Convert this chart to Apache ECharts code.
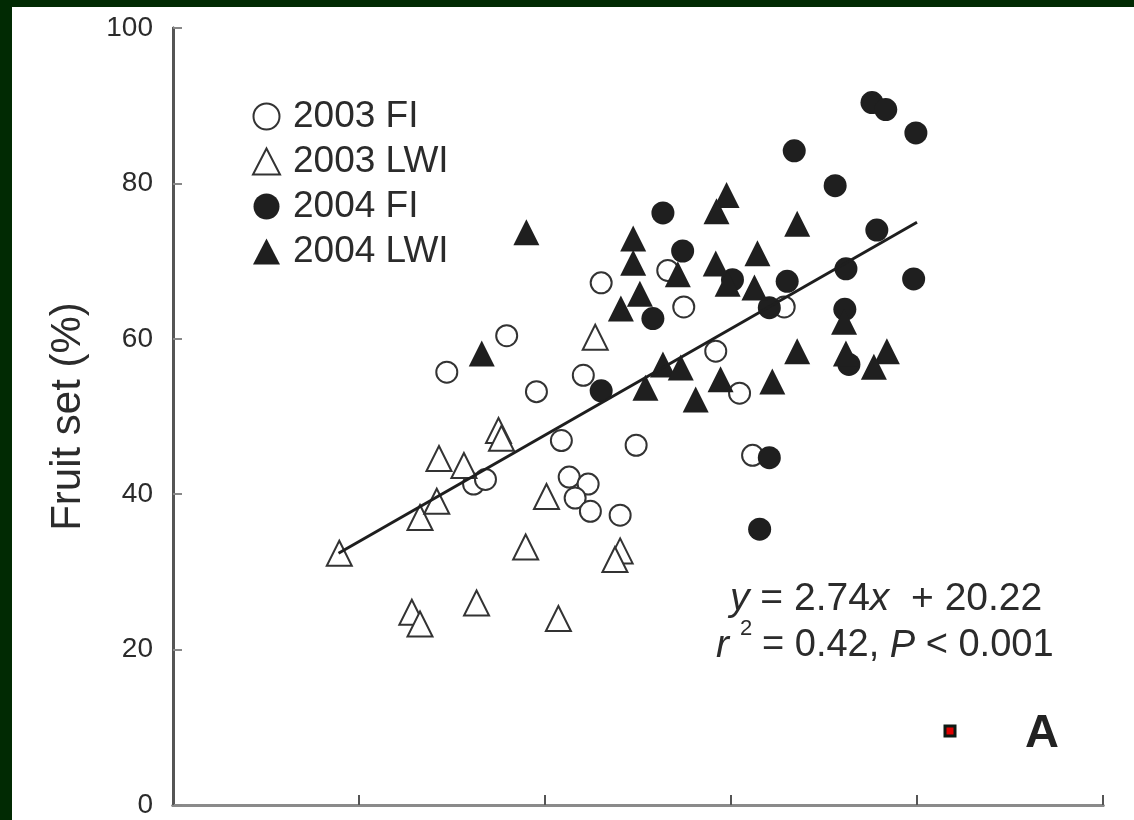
<!DOCTYPE html>
<html>
<head>
<meta charset="utf-8">
<script src="https://cdn.jsdelivr.net/npm/echarts@6/dist/echarts.min.js"></script>
<style>
  html, body { margin: 0; padding: 0; background: #012a03; width: 1134px; height: 820px; overflow: hidden; }
  #chart { position: absolute; left: 12px; top: 7px; width: 1122px; height: 813px; background: #fff; }
</style>
</head>
<body>
<div id="chart"></div>
<script>
// values: [x, fruit set %]
const fi2003 = [
  [7.36, 55.7], [8.97, 60.4], [9.77, 53.2], [10.44, 46.9], [10.65, 42.2],
  [11.16, 41.3], [10.81, 39.5], [11.22, 37.8], [12.02, 37.3], [11.03, 55.3],
  [11.51, 67.2], [12.45, 46.3], [13.30, 68.8], [13.73, 64.1], [14.59, 58.4],
  [15.23, 53.0], [15.58, 45.0], [16.43, 64.1], [8.08, 41.3], [8.40, 41.9]
];
const lwi2003 = [
  [4.47, 32.4], [6.42, 24.8], [6.64, 23.3], [6.64, 37.0], [7.09, 39.1],
  [7.15, 44.6], [7.82, 43.7], [8.16, 26.0], [8.75, 48.2], [8.83, 47.2],
  [9.48, 33.2], [10.04, 39.7], [10.36, 24.0], [11.35, 60.2], [12.02, 32.7],
  [11.88, 31.6]
];
const fi2004 = [
  [13.17, 76.2], [13.70, 71.3], [12.90, 62.6], [11.51, 53.3], [16.03, 64.0],
  [16.51, 67.4], [16.70, 84.2], [17.80, 79.7], [18.79, 90.4], [19.16, 89.5],
  [19.97, 86.5], [18.92, 74.0], [18.09, 69.0], [19.91, 67.7], [18.06, 63.8],
  [18.17, 56.7], [16.03, 44.7], [15.77, 35.5], [15.04, 67.6]
];
const lwi2004 = [
  [8.30, 58.1], [9.50, 73.7], [14.88, 78.5], [14.61, 76.4], [16.78, 74.8],
  [12.37, 72.9], [12.37, 69.8], [15.71, 71.0], [14.59, 69.7], [13.57, 68.3],
  [14.91, 67.1], [15.63, 66.6], [12.55, 65.8], [12.04, 63.9], [18.04, 62.2],
  [16.78, 58.4], [18.09, 58.1], [19.19, 58.4], [18.84, 56.4], [13.17, 56.7],
  [13.65, 56.3], [12.70, 53.7], [14.72, 54.8], [16.11, 54.5], [14.05, 52.2]
];
// fitted line end points as drawn
const fitLine = [[4.45, 32.4], [20.0, 75.0]];
const yTicks = [0, 20, 40, 60, 80, 100];

const ink = '#2b2b2b';
const font = 'Liberation Sans, Arial, sans-serif';

let chart = echarts.init(document.getElementById('chart'));

const openStyle = { color: '#fff', borderColor: '#333', borderWidth: 2, opacity: 1 };
const solidStyle = { color: '#1f1f1f', borderColor: '#1f1f1f', borderWidth: 0, opacity: 1 };
const italic = { fontStyle: 'italic', fontSize: 39, fontFamily: font };

chart.setOption({
  animation: false,
  textStyle: { fontFamily: font },
  grid: { left: 161, top: 21, right: 31, bottom: 15 },
  legend: {
    orient: 'vertical',
    left: 235,
    top: 86,
    itemWidth: 27,
    itemHeight: 26,
    itemGap: 8,
    textStyle: { fontSize: 37, color: ink, lineHeight: 37, padding: [0, 0, 0, 8] },
    data: ['2003 FI', '2003 LWI', '2004 FI', '2004 LWI']
  },
  xAxis: [{
    type: 'value', min: 0, max: 25, interval: 5,
    axisLine: { lineStyle: { color: '#666', width: 3 } },
    axisTick: { inside: true, length: 10, lineStyle: { color: '#555', width: 2 } },
    axisLabel: { show: false },
    splitLine: { show: false }
  }, {
    type: 'value', position: 'top', min: 0, max: 25,
    axisLine: { show: true, lineStyle: { color: '#8a8a8a', width: 3 } },
    axisTick: { show: false }, axisLabel: { show: false }, splitLine: { show: false }
  }],
  yAxis: [{
    type: 'value', min: 0, max: 100, interval: 20,
    name: 'Fruit set (%)', nameLocation: 'middle', nameRotate: 90, nameGap: 84,
    nameTextStyle: { fontSize: 42, color: ink },
    axisLine: { show: true, lineStyle: { color: '#222', width: 2.5 } },
    axisTick: { inside: true, length: 9, lineStyle: { color: '#888', width: 2 } },
    axisLabel: {
      fontSize: 28, color: ink, margin: 20,
      formatter: v => yTicks.includes(v) ? String(v) : ''
    },
    splitLine: { show: false }
  }, {
    type: 'value', position: 'right', min: 0, max: 100,
    axisLine: { show: true, lineStyle: { color: '#555', width: 3 } },
    axisTick: { show: false }, axisLabel: { show: false }, splitLine: { show: false }
  }],
  series: [{
    name: '2003 FI', type: 'scatter', symbol: 'circle', symbolSize: 21,
    itemStyle: openStyle, data: fi2003, z: 3
  }, {
    name: '2003 LWI', type: 'scatter', symbol: 'triangle', symbolSize: 25,
    itemStyle: openStyle, data: lwi2003, z: 3
  }, {
    name: '2004 FI', type: 'scatter', symbol: 'circle', symbolSize: 23,
    itemStyle: solidStyle, data: fi2004, z: 4
  }, {
    name: '2004 LWI', type: 'scatter', symbol: 'triangle', symbolSize: 26,
    itemStyle: solidStyle, data: lwi2004, z: 4
  }, {
    type: 'line', data: fitLine, symbol: 'none', silent: true,
    lineStyle: { color: '#1e1e1e', width: 3 }, z: 5
  }],
  graphic: [{
    type: 'text', x: 718, y: 592,
    style: {
      text: '{i|y} = 2.74{i|x}  + 20.22',
      font: '39px ' + font, fill: ink, verticalAlign: 'middle',
      rich: { i: italic }
    }
  }, {
    type: 'text', x: 704, y: 639,
    style: {
      text: '{i|r}',
      font: '39px ' + font, fill: ink, verticalAlign: 'middle',
      rich: { i: italic }
    }
  }, {
    type: 'text', x: 728, y: 622,
    style: { text: '2', font: '22px ' + font, fill: ink, verticalAlign: 'middle' }
  }, {
    type: 'text', x: 750, y: 639,
    style: {
      text: '= 0.42, {i|P} < 0.001',
      font: '38px ' + font, fill: ink, verticalAlign: 'middle',
      rich: { i: { fontStyle: 'italic', fontSize: 38, fontFamily: font } }
    }
  }, {
    type: 'rect', shape: { x: 933, y: 719, width: 10, height: 10 },
    style: { fill: '#e00000', stroke: '#0d1a14', lineWidth: 3 }
  }, {
    type: 'text', x: 1013, y: 727,
    style: { text: 'A', font: 'bold 47px ' + font, fill: '#222', verticalAlign: 'middle' }
  }]
});
</script>
</body>
</html>
